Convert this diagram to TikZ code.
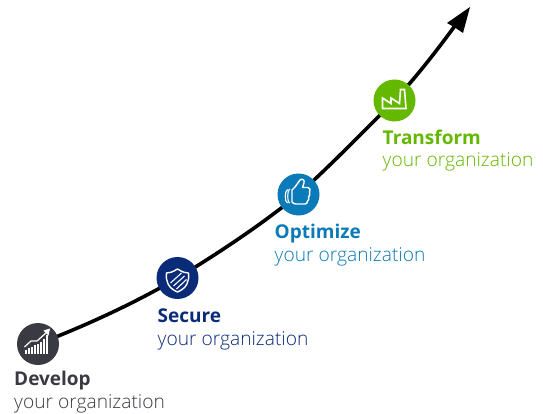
\documentclass[tikz,border=0pt]{standalone}
\usepackage{fontspec}
\setmainfont{Open Sans}
\newfontfamily\lightfont{Open Sans Light}
\definecolor{cdev}{HTML}{3A3A42}
\definecolor{csec}{HTML}{0A2C78}
\definecolor{copt}{HTML}{0A7AB8}
\definecolor{ctra}{HTML}{64B800}
\tikzset{
  stage/.style={circle,minimum size=42pt,inner sep=0pt,fill=#1},
  head/.style={anchor=base west,inner sep=0pt,font=\fontsize{19}{21}\selectfont\bfseries,text=#1},
  sub/.style={anchor=base west,inner sep=0pt,font=\fontsize{19.2}{21}\lightfont,text=#1},
  curveline/.style={line width=3.6pt,black},
  icon/.style={white,line width=1.4pt,line join=miter}
}
\begin{document}
\begin{tikzpicture}[x=1pt,y=-1pt]
\useasboundingbox (0,0) rectangle (543,414);
\coordinate (pdev) at (38,344);
\coordinate (psec) at (177.5,278);
\coordinate (popt) at (298.5,194.5);
\coordinate (ptra) at (394.5,100.5);
\coordinate (aim) at (457,23);
\draw[curveline] (pdev) .. controls (85,326) and (135,303) .. (psec)
  .. controls (222,251) and (262,224) .. (popt)
  .. controls (335,161) and (362,133) .. (ptra)
  .. controls (418,75) and (438,49) .. (aim);
\fill[black] (470,7) -- (447,23) -- (454,27) -- (463,33) -- cycle;
\node[stage=cdev] (dev) at (pdev) {};
\node[stage=csec] (sec) at (psec) {};
\node[stage=copt] (opt) at (popt) {};
\node[stage=ctra] (tra) at (ptra) {};
% Develop icon
\foreach \x/\h in {25/4,28/6,31/7,34/9,37/10,40/12,43/15,46/19}
  \fill[white] (\x,354) rectangle ++(2,-\h);
\draw[icon,line width=1.2pt] (24.5,347) -- (31,341) -- (37,341) -- (47,332);
\fill[white] (50,328.5) -- (43.5,330.5) -- (48.5,335.5) -- cycle;
% Secure icon
\draw[icon,line join=round] (177.5,269) .. controls (172,272.5) and (169,273) .. (166.5,273)
  .. controls (165.5,281) and (168,288) .. (177.5,292)
  .. controls (187,288) and (189.5,281) .. (188.5,273)
  .. controls (186,273) and (183,272.5) .. (177.5,269) -- cycle;
\draw[icon,line width=1.1pt] (170.5,283) -- (181.5,273) (173.5,286) -- (184.5,276) (176.5,289) -- (186.5,279.5);
% Optimize icon
\draw[icon,line join=round] (295,187) -- (300,180) .. controls (302,178) and (305,180) .. (304,183)
  -- (302.5,187.5) -- (308,187.5) .. controls (310.5,187.5) and (310.5,191) .. (309.5,192)
  .. controls (310.5,194) and (309.5,196) .. (308.5,197) .. controls (309.5,199) and (308.5,200) .. (307.5,201)
  .. controls (307.5,203) and (306.5,204) .. (305,204) -- (296,204)
  .. controls (294,204) and (293,203) .. (292,202) -- (292,190) -- cycle;
\draw[icon,line width=1.1pt,line join=round] (290,189) .. controls (287,190) and (287,203) .. (290,203)
  (287.5,189.5) .. controls (284.5,191) and (284.5,202) .. (287.5,203);
% Transform icon
\draw[icon,line width=1.6pt] (382.5,108.5) -- (382.5,98) -- (391,103.5) -- (391,98) -- (399.5,103.5)
  -- (400.5,89.5) -- (404.5,89.5) -- (406,108.5) -- cycle;
% Labels
\node[head=cdev] (ldev) at (14,385.3) {Develop};
\node[sub=cdev] (sdev) at (14,408) {your organization};
\node[head=csec] (lsec) at (157.5,322.3) {Secure};
\node[sub=csec] (ssec) at (157.5,345) {your organization};
\node[head=copt] (lopt) at (274.5,238.3) {Optimize};
\node[sub=copt] (sopt) at (274.5,261) {your organization};
\node[head=ctra] (ltra) at (382.5,144.3) {Transform};
\node[sub=ctra] (stra) at (382.5,167) {your organization};
\end{tikzpicture}
\end{document}
